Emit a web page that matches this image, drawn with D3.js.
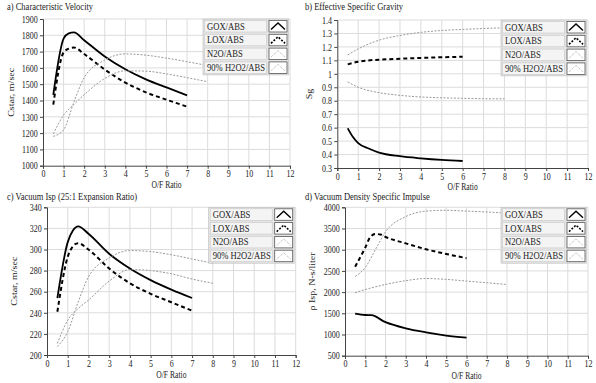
<!DOCTYPE html>
<html><head><meta charset="utf-8">
<script src="https://cdn.jsdelivr.net/npm/d3@7"></script>
<style>body{margin:0;background:#fff}svg{display:block}text{font-family:"Liberation Serif","DejaVu Serif",serif;fill:#222}</style>
</head><body><svg id="c" width="596" height="383"></svg>
<script>
// ---------- data ----------
const seriesNames = ["GOX/ABS", "LOX/ABS", "N2O/ABS", "90% H2O2/ABS"];
const xTicks = [0,1,2,3,4,5,6,7,8,9,10,11,12];

// a) Characteristic Velocity (m/sec)
const aGoxOF  = [0.5, 1, 1.25, 1.5, 2, 3, 4, 5, 6, 7];
const aGoxVal = [1435, 1780, 1812, 1818, 1770, 1670, 1592, 1530, 1480, 1432];
const aLoxOF  = [0.5, 1, 1.25, 1.5, 2, 3, 4, 5, 6, 7];
const aLoxVal = [1375, 1695, 1718, 1725, 1685, 1590, 1510, 1450, 1405, 1362];
const aN2oOF  = [0.5, 1, 1.5, 2, 3, 4, 5, 6, 7, 8];
const aN2oVal = [1195, 1310, 1375, 1435, 1535, 1582, 1580, 1563, 1540, 1515];
const aH2o2OF  = [0.5, 1, 1.5, 2, 3, 4, 5, 6, 7, 8];
const aH2o2Val = [1180, 1220, 1390, 1540, 1648, 1686, 1678, 1660, 1638, 1614];
const aYTicks = [1000,1100,1200,1300,1400,1500,1600,1700,1800,1900];

// b) Effective Specific Gravity
const bGoxOF  = [0.5, 0.75, 1, 1.5, 2, 3, 4, 5, 6];
const bGoxVal = [0.595, 0.53, 0.485, 0.445, 0.415, 0.388, 0.372, 0.36, 0.352];
const bLoxOF  = [0.5, 1, 2, 3, 4, 5, 6];
const bLoxVal = [1.07, 1.09, 1.105, 1.112, 1.118, 1.123, 1.127];
const bN2oOF  = [0.5, 1, 2, 3, 4, 5, 6, 7, 8];
const bN2oVal = [0.94, 0.9, 0.86, 0.84, 0.828, 0.822, 0.818, 0.815, 0.814];
const bH2o2OF  = [0.5, 1, 2, 3, 4, 5, 6, 7, 8];
const bH2o2Val = [1.14, 1.185, 1.25, 1.285, 1.308, 1.322, 1.33, 1.337, 1.342];
const bYTicks = [0.3,0.4,0.5,0.6,0.7,0.8,0.9,1,1.1,1.2,1.3,1.4];

// c) Vacuum Isp (25:1 Expansion Ratio)
const cGoxOF  = [0.5, 1, 1.25, 1.5, 2, 3, 4, 5, 6, 7];
const cGoxVal = [254, 307, 318, 322, 315, 296, 282, 271, 262, 254];
const cLoxOF  = [0.5, 1, 1.25, 1.5, 2, 3, 4, 5, 6, 7];
const cLoxVal = [241, 293, 303, 306, 300, 282, 268, 258, 250, 242];
const cN2oOF  = [0.5, 1, 1.5, 2, 3, 4, 5, 6, 7, 8];
const cN2oVal = [211, 233, 244, 252, 270, 281, 280, 277, 272, 268];
const cH2o2OF  = [0.5, 1, 1.5, 2, 3, 4, 5, 6, 7, 8];
const cH2o2Val = [208, 222, 250, 274, 292, 299, 298, 295, 291, 287];
const cYTicks = [200,220,240,260,280,300,320,340];

// d) Vacuum Density Specific Impulse (N-s/liter)
const dGoxOF  = [0.5, 1, 1.3, 2, 3, 4, 5, 6];
const dGoxVal = [1495, 1460, 1455, 1290, 1145, 1050, 975, 925];
const dLoxOF  = [0.5, 1, 1.25, 1.5, 1.75, 2, 3, 4, 5, 6];
const dLoxVal = [2600, 3050, 3300, 3370, 3360, 3300, 3150, 3010, 2900, 2800];
const dN2oOF  = [0.5, 1, 2, 3, 4, 5, 6, 7, 8];
const dN2oVal = [1985, 2060, 2180, 2270, 2320, 2300, 2260, 2220, 2180];
const dH2o2OF  = [0.5, 1, 1.5, 2, 3, 4, 5, 6, 7, 8];
const dH2o2Val = [2370, 2580, 3000, 3420, 3780, 3910, 3930, 3910, 3890, 3860];
const dYTicks = [500,1000,1500,2000,2500,3000,3500,4000];

// ---------- drawing ----------
const svg = d3.select("#c");
const FS = 10;
const styles = [
  {stroke:"#000", width:1.8, dash:null},
  {stroke:"#000", width:2, dash:"4,3"},
  {stroke:"#999", width:1, dash:"2,1.5"},
  {stroke:"#999", width:1, dash:"2,1.5"}
];

// text squeezed horizontally like the reference
function label(parent, x, y, str, k, anchor, rotate, fs){
  const g = parent.append("g").attr("transform", `translate(${x},${y})` + (rotate ? " rotate(-90)" : ""));
  return g.append("text").attr("transform", rotate ? `scale(1,${k})` : `scale(${k},1)`)
    .attr("font-size", fs || FS).attr("text-anchor", anchor || "start").text(str);
}

function panel(cfg){
  const g = svg.append("g");
  const x = d3.scaleLinear().domain([0,12]).range([cfg.l, cfg.r]);
  const y = d3.scaleLinear().domain(cfg.yDomain).range([cfg.b, cfg.t]);
  label(g, cfg.titleX, cfg.titleY, cfg.title, 0.85);
  // grid
  g.append("g").selectAll("line").data(xTicks.slice(1)).join("line")
    .attr("x1", d=>x(d)).attr("x2", d=>x(d)).attr("y1", cfg.t).attr("y2", cfg.b)
    .attr("stroke", "#dcdcdc").attr("stroke-width", 1);
  g.append("g").selectAll("line").data(cfg.yTicks.slice(1)).join("line")
    .attr("x1", cfg.l).attr("x2", cfg.r).attr("y1", d=>y(d)).attr("y2", d=>y(d))
    .attr("stroke", "#dcdcdc").attr("stroke-width", 1);
  // axes
  const xa = g.append("g").attr("transform", `translate(0,${cfg.b})`)
    .call(d3.axisBottom(x).tickValues(xTicks).tickSize(3).tickPadding(1.6).tickFormat(d3.format("d")));
  const ya = g.append("g").attr("transform", `translate(${cfg.l},0)`)
    .call(d3.axisLeft(y).tickValues(cfg.yTicks).tickSize(3).tickPadding(3.5).tickFormat(cfg.fmt));
  [xa, ya].forEach(a=>{
    a.select(".domain").attr("stroke", "#444");
    a.selectAll(".tick line").attr("stroke", "#444");
    a.selectAll("text").attr("font-size", FS).attr("font-family", null).attr("fill", "#222")
      .attr("transform", "scale(0.8,1)");
  });
  // axis labels
  label(g, (cfg.l+cfg.r)/2, cfg.b + cfg.xlOff, "O/F Ratio", 0.8, "middle", false, 9.5);
  label(g, cfg.ylx, (cfg.t+cfg.b)/2, cfg.ylabel, 0.8, "middle", true);
  // lines
  const line = d3.line().x(d=>x(d[0])).y(d=>y(d[1])).curve(d3.curveMonotoneX);
  cfg.series.forEach((s,i)=>{
    g.append("path").attr("d", line(d3.zip(s[0], s[1]))).attr("fill","none")
      .attr("stroke", styles[i].stroke).attr("stroke-width", styles[i].width)
      .attr("stroke-dasharray", styles[i].dash);
  });
  // legend
  const lr = cfg.r - 3, lt = cfg.t + 1.5;
  const iconW = 18, labW = 62, gap = 2.5, rowH = 11.5, pitch = 13.8;
  const lx = lr - iconW - gap - labW;
  const lg = g.append("g");
  lg.append("rect").attr("x", lx-1.5).attr("y", lt-1.5)
    .attr("width", labW+gap+iconW+3).attr("height", pitch*3+rowH+3)
    .attr("fill", "#e4e4e4").attr("stroke", "#bbb").attr("stroke-width", 0.6);
  seriesNames.forEach((n,i)=>{
    const ry = lt + i*pitch;
    lg.append("rect").attr("x", lx).attr("y", ry).attr("width", labW).attr("height", rowH)
      .attr("fill", "#f4f4f4").attr("stroke", "#c8c8c8").attr("stroke-width", 0.6);
    label(lg, lx+2.5, ry+9, n, 0.86);
    const ix = lx + labW + gap;
    lg.append("rect").attr("x", ix).attr("y", ry).attr("width", iconW).attr("height", rowH)
      .attr("fill", "#fff").attr("stroke", "#555").attr("stroke-width", 0.8);
    lg.append("path")
      .attr("d", `M${ix+2},${ry+rowH-2.5} L${ix+iconW/2},${ry+2.5} L${ix+iconW-2},${ry+rowH-2.5}`)
      .attr("fill","none").attr("stroke", styles[i].stroke)
      .attr("stroke-width", i===0?1.4:(i===1?1.6:0.8))
      .attr("stroke-dasharray", i===1?"2,1.5":(i>1?"1,1":null));
  });
}

panel({title:"a) Characteristic Velocity", titleX:7, titleY:10,
  l:43, r:290, t:19, b:165.7, yDomain:[1000,1900], yTicks:aYTicks, fmt:d3.format("d"),
  ylabel:"Cstar, m/sec", ylx:14, xlOff:21.8,
  series:[[aGoxOF,aGoxVal],[aLoxOF,aLoxVal],[aN2oOF,aN2oVal],[aH2o2OF,aH2o2Val]]});
panel({title:"b) Effective Specific Gravity", titleX:305, titleY:10,
  l:337.3, r:588, t:20, b:168, yDomain:[0.3,1.4], yTicks:bYTicks, fmt:d=>String(+d.toFixed(1)),
  ylabel:"Sg", ylx:312, xlOff:22.3,
  series:[[bGoxOF,bGoxVal],[bLoxOF,bLoxVal],[bN2oOF,bN2oVal],[bH2o2OF,bH2o2Val]]});
panel({title:"c) Vacuum Isp (25:1 Expansion Ratio)", titleX:7, titleY:200,
  l:47, r:295.7, t:207.3, b:355, yDomain:[200,340], yTicks:cYTicks, fmt:d3.format("d"),
  ylabel:"Cstar, m/sec", ylx:17, xlOff:22.7,
  series:[[cGoxOF,cGoxVal],[cLoxOF,cLoxVal],[cN2oOF,cN2oVal],[cH2o2OF,cH2o2Val]]});
panel({title:"d) Vacuum Density Specific Impulse", titleX:305, titleY:200,
  l:345, r:588, t:207.3, b:355.7, yDomain:[500,4000], yTicks:dYTicks, fmt:d3.format("d"),
  ylabel:"ρ Isp, N-s/liter", ylx:315, xlOff:23,
  series:[[dGoxOF,dGoxVal],[dLoxOF,dLoxVal],[dN2oOF,dN2oVal],[dH2o2OF,dH2o2Val]]});
</script></body></html>
